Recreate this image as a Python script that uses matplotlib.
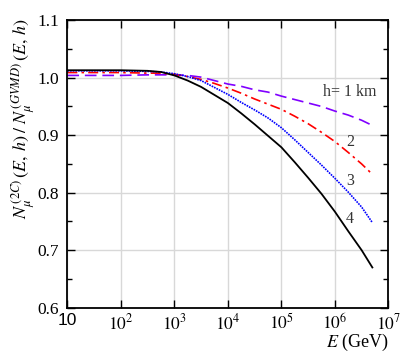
import matplotlib
matplotlib.use('Agg')
import matplotlib.pyplot as plt
import numpy as np
from matplotlib.ticker import LogLocator, MultipleLocator, NullFormatter

plt.rcParams['mathtext.fontset'] = 'stix'
plt.rcParams['font.family'] = ['Liberation Serif', 'DejaVu Serif']

# energy grid (GeV)
energy = 10 ** np.array([1, 2, 2.5, 2.75, 3, 3.25, 3.5, 3.75, 4, 4.25, 4.5,
                         4.75, 5, 5.25, 5.5, 5.75, 6, 6.25, 6.5, 6.7])

ratio_h1 = [1.004, 1.004, 1.005, 1.005, 1.005, 1.004, 1.001, 0.995, 0.989, 0.985, 0.979,
            0.975, 0.968, 0.962, 0.956, 0.950, 0.942, 0.935, 0.926, 0.917]
ratio_h2 = [1.009, 1.009, 1.008, 1.008, 1.006, 1.002, 0.997, 0.990, 0.982, 0.973, 0.963,
            0.954, 0.945, 0.933, 0.920, 0.905, 0.889, 0.870, 0.850, 0.832]
ratio_h3 = [1.012, 1.012, 1.011, 1.010, 1.007, 1.002, 0.995, 0.983, 0.971, 0.957, 0.944,
            0.930, 0.913, 0.892, 0.870, 0.848, 0.825, 0.801, 0.775, 0.748]
ratio_h4 = [1.013, 1.013, 1.012, 1.010, 1.004, 0.995, 0.984, 0.970, 0.956, 0.938, 0.919,
            0.899, 0.879, 0.853, 0.826, 0.798, 0.767, 0.733, 0.700, 0.670]

xtick_pos = [1e1, 1e2, 1e3, 1e4, 1e5, 1e6, 1e7]
xtick_labels = ['10', r'$10^{2}$', r'$10^{3}$', r'$10^{4}$', r'$10^{5}$', r'$10^{6}$', r'$10^{7}$']
ytick_pos = [0.6, 0.7, 0.8, 0.9, 1.0, 1.1]

# curve labels: text, x, y
curve_labels = [('h= 1 km', 6.0e5, 0.975), ('2', 1.9e6, 0.889),
                ('3', 1.9e6, 0.821), ('4', 1.9e6, 0.754)]

fig = plt.figure(figsize=(4.01, 3.58), dpi=100)
ax = fig.add_axes([0.168, 0.1405, 0.8006, 0.803])

ax.plot(energy, ratio_h1, color='#8000ff', ls=(0, (7, 3.5)), lw=1.2)
ax.plot(energy, ratio_h2, color='#ff0000', ls=(0, (6, 2.5, 1.5, 2.5)), lw=1.2)
ax.plot(energy, ratio_h3, color='#0000ff', ls=(0, (1, 0.6)), lw=1.2)
ax.plot(energy, ratio_h4, color='black', ls='-', lw=1.3)

for txt, x, y in curve_labels:
    ha = 'left' if txt.startswith('h') else 'center'
    ax.text(x, y, txt, fontsize=11.5, ha=ha, va='center', color='#333333')

ax.set_xscale('log')
ax.set_xlim(10, 1e7)
ax.set_ylim(0.6, 1.1)
ax.set_xticks(xtick_pos)
ax.set_xticklabels(xtick_labels)
ax.xaxis.set_minor_locator(LogLocator(base=10, subs=np.arange(2, 10)))
ax.xaxis.set_minor_formatter(NullFormatter())
ax.set_yticks(ytick_pos)
ax.set_yticklabels(['%.1f' % v for v in ytick_pos])
ax.yaxis.set_minor_locator(MultipleLocator(0.05))

for lab in ax.get_xticklabels():
    if lab.get_text() == '10':
        lab.set_family('Liberation Sans')
        lab.set_fontsize(13)

ax.grid(True, which='major', color='#d8d8d8', lw=1.0)
ax.set_axisbelow(True)
ax.tick_params(which='both', direction='in', top=True, right=True, labelsize=12.5, width=1)
ax.tick_params(which='major', length=6)
ax.tick_params(axis='x', which='major', pad=4)
ax.tick_params(axis='y', which='major', pad=6)
ax.tick_params(which='minor', length=3.5)
for sp in ax.spines.values():
    sp.set_linewidth(1.3)

ax.set_xlabel(r'$E$ (GeV)', fontsize=13, loc='right', labelpad=-1)
ax.set_ylabel(r'$N_\mu^{\,(2C)}\,(E,\,h)\;/\;N_\mu^{\,(GVMD)}\,(E,\,h)$', fontsize=13)
ax.yaxis.set_label_coords(-0.095, 0.66)

plt.savefig('out.png', dpi=100)
